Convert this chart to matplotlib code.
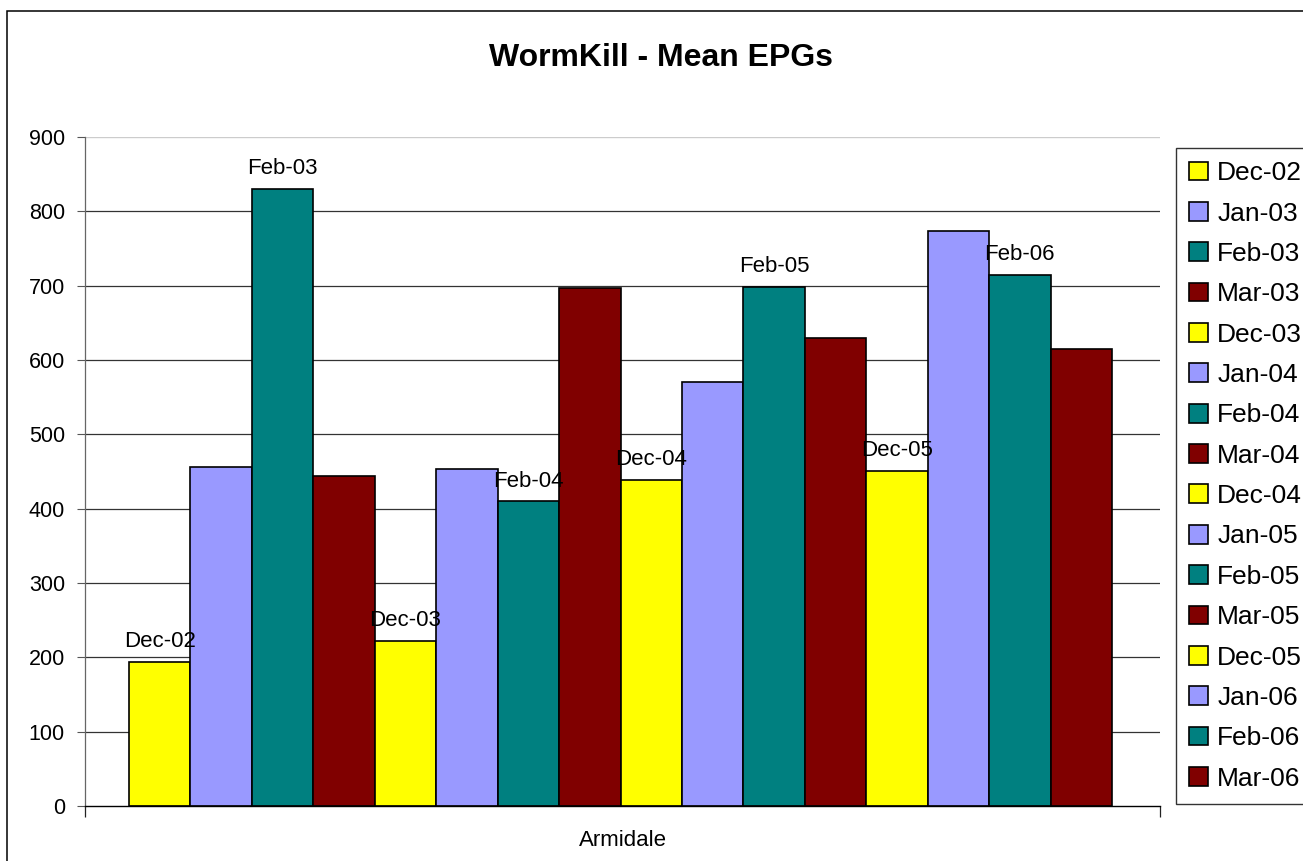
import matplotlib
matplotlib.use("Agg")
import matplotlib.pyplot as plt
from matplotlib.patches import Rectangle
import numpy as np

plt.rcParams['font.family'] = ['Liberation Sans', 'DejaVu Sans']

category = "Armidale"
series_names = ["Dec-02", "Jan-03", "Feb-03", "Mar-03",
                "Dec-03", "Jan-04", "Feb-04", "Mar-04",
                "Dec-04", "Jan-05", "Feb-05", "Mar-05",
                "Dec-05", "Jan-06", "Feb-06", "Mar-06"]
values = [194, 456, 830, 444, 222, 454, 410, 697,
          439, 570, 698, 630, 451, 773, 715, 615]
labelled = ["Dec-02", "Feb-03", "Dec-03", "Feb-04",
            "Dec-04", "Feb-05", "Dec-05", "Feb-06"]
month_colors = {"Dec": "#FFFF00", "Jan": "#9999FF", "Feb": "#008080", "Mar": "#800000"}
yticks = list(range(0, 1000, 100))

W, H = 1303, 861
fig = plt.figure(figsize=(W / 100, H / 100), dpi=100)
ax = fig.add_axes([85 / W, 1 - 806 / H, (1160 - 85) / W, (806 - 137) / H])

n = len(values)
group = 983 / 1075
w = group / n
xs = -0.5 + 44 / 1075 + w * (np.arange(n) + 0.5)

handles = []
for i, (name, v) in enumerate(zip(series_names, values)):
    b = ax.bar(xs[i], v, width=w, color=month_colors[name[:3]],
               edgecolor="black", linewidth=1.2, label=name, zorder=3)
    handles.append(b)
    if name in labelled:
        ax.annotate(name, (xs[i], v), xytext=(0, 7), textcoords="offset points",
                    ha="center", va="bottom", fontsize=16, zorder=4)

ax.set_xlim(-0.5, 0.5)
ax.set_ylim(0, 900)
ax.set_yticks(yticks)
ax.tick_params(axis="y", labelsize=15.5, length=5.5, width=0.8, pad=9, color="#555555")
for y in yticks[1:-1]:
    ax.axhline(y, color="#333333", lw=0.9, zorder=1)
ax.axhline(900, color="#cccccc", lw=1.0, zorder=1)

ax.set_xticks([0])
ax.set_xticklabels([category], fontsize=16)
ax.tick_params(axis="x", which="major", length=0, pad=17)
ax.set_xticks([-0.5, 0.5], minor=True)
ax.tick_params(axis="x", which="minor", length=8, width=0.9, color="#222222", direction="out")

for s in ["top", "right"]:
    ax.spines[s].set_visible(False)
ax.spines["left"].set_color("#666666")
ax.spines["left"].set_linewidth(0.9)
ax.spines["bottom"].set_color("black")
ax.spines["bottom"].set_linewidth(1.0)
ax.spines["bottom"].set_zorder(5)

fig.text(661 / W, 1 - 58 / H, "WormKill - Mean EPGs", ha="center", va="center",
         fontsize=23, fontweight="bold")

leg = fig.legend(handles=handles, labels=series_names, loc="upper left",
                 bbox_to_anchor=(1176 / W, 1 - 148 / H), bbox_transform=fig.transFigure,
                 fontsize=19, frameon=True, fancybox=False, borderaxespad=0,
                 handlelength=0.72, handleheight=0.72, handletextpad=0.34,
                 labelspacing=0.62, borderpad=0.5)
leg.get_frame().set_edgecolor("black")
leg.get_frame().set_linewidth(1.0)

fig.patches.append(Rectangle((7 / W, -0.1), 1.2, 1.1 - 11 / H, transform=fig.transFigure,
                             fill=False, edgecolor="black", linewidth=1.1, zorder=0))

fig.savefig("out.png", dpi=100)
